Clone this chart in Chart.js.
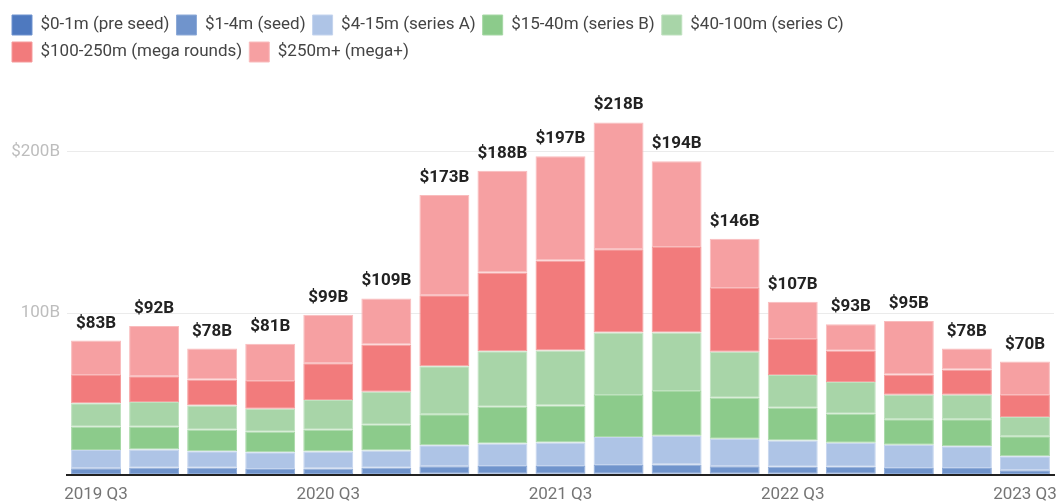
<!DOCTYPE html>
<html>
<head>
<meta charset="utf-8">
<script src="https://cdn.jsdelivr.net/npm/chart.js@4.4.0/dist/chart.umd.min.js"></script>
<style>
  html, body { margin: 0; padding: 0; background: #fff; }
  #wrap { width: 1058px; height: 501px; }
</style>
</head>
<body>
<div id="wrap"><canvas id="chart-funding"></canvas></div>
<script>
const quarters = ['2019 Q3', '2019 Q4', '2020 Q1', '2020 Q2', '2020 Q3', '2020 Q4', '2021 Q1', '2021 Q2',
    '2021 Q3', '2021 Q4', '2022 Q1', '2022 Q2', '2022 Q3', '2022 Q4', '2023 Q1', '2023 Q2', '2023 Q3'];
const totals = [83, 92, 78, 81, 99, 109, 173, 188, 197, 218, 194, 146, 107, 93, 95, 78, 70];

const preSeed = [0.3, 0.4, 0.4, 0.3, 0.3, 0.4, 0.5, 0.5, 0.5, 0.6, 0.6, 0.5, 0.5, 0.5, 0.4, 0.4, 0.3];
const seed = [3.6, 3.9, 3.9, 3.2, 3.4, 3.9, 4.7, 4.9, 4.9, 5.4, 5.6, 4.7, 4.3, 4.3, 3.7, 3.7, 2.4];
const seriesA = [11.4, 11.2, 10.2, 10.4, 10.6, 10.6, 13.0, 13.9, 14.5, 17.2, 17.8, 17.0, 16.3, 14.9, 14.3, 13.5, 8.7];
const seriesB = [14.3, 14.1, 13.2, 12.6, 13.4, 15.9, 19.1, 22.7, 22.8, 26.1, 27.8, 25.4, 20.3, 18.0, 15.8, 16.6, 12.4];
const seriesC = [14.5, 15.3, 15.0, 14.3, 18.5, 20.5, 29.8, 34.4, 34.1, 38.7, 36.2, 28.4, 20.3, 19.6, 15.3, 15.3, 11.8];
const mega = [17.6, 16.0, 16.1, 17.2, 22.7, 29.2, 43.9, 48.7, 55.7, 51.5, 52.8, 39.5, 22.2, 19.3, 12.4, 15.5, 13.7];
const megaPlus = [21.3, 31.1, 19.2, 23.0, 30.1, 28.5, 62.0, 62.9, 64.5, 78.5, 53.2, 30.5, 23.1, 16.4, 33.1, 13.0, 20.7];

function series(label, values, color, border) {
    return {
        label: label,
        data: values,
        backgroundColor: color,
        borderColor: border,
        borderWidth: 1,
        borderSkipped: false
    };
}

// totals written above each stacked bar
const totalLabels = {
    id: 'totalLabels',
    afterDatasetsDraw(chart) {
        const ctx = chart.ctx;
        const last = chart.getDatasetMeta(chart.data.datasets.length - 1);
        ctx.save();
        ctx.font = 'bold 17px Roboto';
        ctx.fillStyle = '#222';
        ctx.textAlign = 'center';
        ctx.textBaseline = 'alphabetic';
        last.data.forEach((bar, i) => {
            ctx.fillText('$' + totals[i] + 'B', bar.x, bar.y - 13);
        });
        ctx.restore();
    }
};

// leave the empty band between the legend and the plot
const legendSpace = {
    id: 'legendSpace',
    beforeInit(chart) {
        const fit = chart.legend.fit;
        chart.legend.fit = function () {
            fit.call(this);
            this.height = 95;
        };
    }
};

const config = {
    type: 'bar',
    data: {
        labels: quarters,
        datasets: [
            series('$0-1m (pre seed)', preSeed, '#4e79bf', '#6f93cf'),
            series('$1-4m (seed)', seed, '#7094cc', '#8eabd8'),
            series('$4-15m (series A)', seriesA, '#aec4e6', '#c4d4ee'),
            series('$15-40m (series B)', seriesB, '#8ccb8b', '#a6d8a5'),
            series('$40-100m (series C)', seriesC, '#a8d5a8', '#bfe1bf'),
            series('$100-250m (mega rounds)', mega, '#f27b7c', '#f59b9b'),
            series('$250m+ (mega+)', megaPlus, '#f6a0a2', '#f9bcbd')
        ]
    },
    options: {
        responsive: true,
        maintainAspectRatio: false,
        animation: false,
        layout: { padding: { left: 5, right: 4, top: 8, bottom: -14 } },
        datasets: {
            bar: { categoryPercentage: 1, barPercentage: 0.86 }
        },
        plugins: {
            legend: {
                position: 'top',
                align: 'start',
                labels: {
                    boxWidth: 20,
                    boxHeight: 20,
                    padding: 7,
                    color: '#444',
                    font: { family: 'Roboto', size: 17 }
                }
            },
            tooltip: { enabled: false }
        },
        scales: {
            x: {
                stacked: true,
                afterFit: (scale) => { scale.paddingLeft = 0; scale.paddingRight = 0; },
                grid: { display: false, drawTicks: false },
                border: { color: '#222', width: 2 },
                ticks: {
                    autoSkip: false,
                    maxRotation: 0,
                    padding: 10,
                    color: '#757575',
                    font: { family: 'Roboto', size: 17 },
                    callback: function (v, i) {
                        return i % 4 === 0 ? quarters[i] : '';
                    }
                }
            },
            y: {
                stacked: true,
                min: 0,
                max: 230,
                afterFit: (scale) => { scale.width = 62; },
                grid: {
                    drawTicks: false,
                    color: (c) => (c.tick && c.tick.value % 100 === 0 ? '#ebebeb' : 'rgba(0,0,0,0)')
                },
                border: { display: false },
                ticks: {
                    stepSize: 100,
                    padding: 7,
                    color: '#bdbdbd',
                    font: { family: 'Roboto', size: 17 },
                    callback: function (v) {
                        if (v === 0 || v % 100 !== 0) return '';
                        return v === 100 ? '100B' : '$' + v + 'B';
                    }
                }
            }
        }
    },
    plugins: [totalLabels, legendSpace]
};

const fundingChart = new Chart(document.getElementById('chart-funding'), config);
</script>
</body>
</html>
